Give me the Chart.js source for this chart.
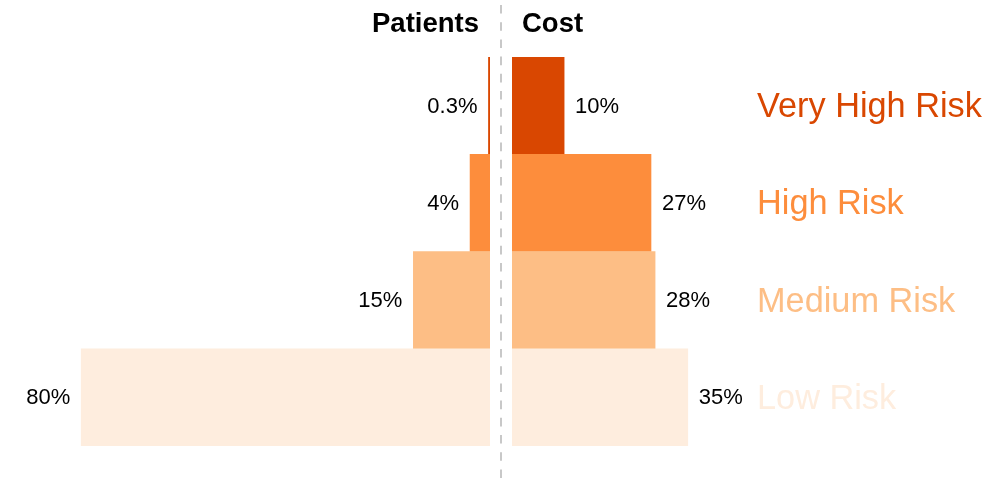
<!DOCTYPE html>
<html>
<head>
<meta charset="utf-8">
<script src="https://cdn.jsdelivr.net/npm/chart.js@4"></script>
<style>
  html, body { margin: 0; padding: 0; background: #fff; }
  #wrap { position: relative; width: 1004px; height: 478px; overflow: hidden; }
  #left { position: absolute; left: 0; top: 0; }
  #right { position: absolute; left: 512px; top: 0; }
  #divider { position: absolute; left: 0; top: 0; }
</style>
</head>
<body>
<div id="wrap">
  <div id="left" style="width:490px;height:478px;"><canvas id="cl"></canvas></div>
  <div id="right" style="width:492px;height:478px;"><canvas id="cr"></canvas></div>
  <svg id="divider" width="1004" height="478">
    <line x1="501" y1="5" x2="501" y2="478" stroke="#c8c8c8" stroke-width="2" stroke-dasharray="8.6 8.6"/>
  </svg>
</div>
<script>
// ---- data ----
const categories = ['Very High Risk', 'High Risk', 'Medium Risk', 'Low Risk'];
const patientsValues = [0.3, 3.9, 15, 80];
const costValues = [10.2, 27.2, 28, 34.4];
const patientsLabels = ['0.3%', '4%', '15%', '80%'];
const costLabels = ['10%', '27%', '28%', '35%'];
const riskColors = ['#d94701', '#fd8d3c', '#fdbe85', '#feedde'];

const FONT = '"Liberation Sans", Arial, sans-serif';
const PX_PER_PCT = 5.11;

function valueLabelPlugin(labels, side) {
  return {
    id: 'valueLabels' + side,
    afterDatasetsDraw(chart) {
      const ctx = chart.ctx;
      const meta = chart.getDatasetMeta(0);
      ctx.save();
      ctx.font = '22px ' + FONT;
      ctx.fillStyle = '#000';
      ctx.textBaseline = 'middle';
      meta.data.forEach((bar, i) => {
        if (side === 'left') {
          ctx.textAlign = 'right';
          ctx.fillText(labels[i], bar.x - 11, bar.y + 1);
        } else {
          ctx.textAlign = 'left';
          ctx.fillText(labels[i], bar.x + 11, bar.y + 1);
        }
      });
      ctx.restore();
    }
  };
}

function headerPlugin(text, x, align) {
  return {
    id: 'header' + text,
    afterDraw(chart) {
      const ctx = chart.ctx;
      ctx.save();
      ctx.font = 'bold 27.5px ' + FONT;
      ctx.fillStyle = '#000';
      ctx.textAlign = align;
      ctx.textBaseline = 'alphabetic';
      ctx.fillText(text, x, 32);
      ctx.restore();
    }
  };
}

const leftWidth = 490;
const rightPlotWidth = 245;

new Chart(document.getElementById('cl'), {
  type: 'bar',
  data: {
    labels: categories,
    datasets: [{
      label: 'Patients',
      data: patientsValues,
      backgroundColor: riskColors,
      borderWidth: 0,
      barPercentage: 1,
      categoryPercentage: 1
    }]
  },
  options: {
    indexAxis: 'y',
    responsive: true,
    maintainAspectRatio: false,
    animation: false,
    layout: { padding: { top: 57, bottom: 32, left: 0, right: 0 } },
    plugins: { legend: { display: false }, tooltip: { enabled: false } },
    scales: {
      x: { display: false, reverse: true, min: 0, max: leftWidth / PX_PER_PCT },
      y: { display: false }
    }
  },
  plugins: [valueLabelPlugin(patientsLabels, 'left'), headerPlugin('Patients', 479, 'right')]
});

new Chart(document.getElementById('cr'), {
  type: 'bar',
  data: {
    labels: categories,
    datasets: [{
      label: 'Cost',
      data: costValues,
      backgroundColor: riskColors,
      borderWidth: 0,
      barPercentage: 1,
      categoryPercentage: 1
    }]
  },
  options: {
    indexAxis: 'y',
    responsive: true,
    maintainAspectRatio: false,
    animation: false,
    layout: { padding: { top: 57, bottom: 32, left: 0, right: 0 } },
    plugins: { legend: { display: false }, tooltip: { enabled: false } },
    scales: {
      x: { display: false, min: 0, max: rightPlotWidth / PX_PER_PCT },
      y: {
        position: 'right',
        grid: { display: false, drawTicks: false },
        border: { display: false },
        afterFit(scale) { scale.width = 492 - rightPlotWidth; },
        ticks: {
          padding: 0,
          labelOffset: 2,
          font: { family: FONT, size: 34.3 },
          color: (c) => riskColors[c.index]
        }
      }
    }
  },
  plugins: [valueLabelPlugin(costLabels, 'right'), headerPlugin('Cost', 10, 'left')]
});
</script>
</body>
</html>
